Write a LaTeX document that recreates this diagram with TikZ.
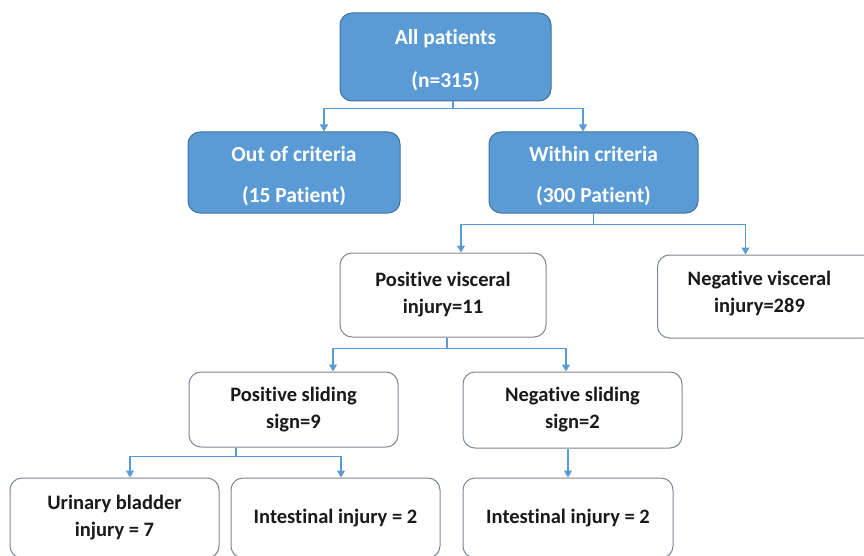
\documentclass[tikz,border=0pt]{standalone}
\usepackage{fontspec}
\setmainfont[Ligatures=NoCommon]{Carlito}
\usetikzlibrary{arrows.meta}
\definecolor{bfill}{HTML}{5B9BD5}
\definecolor{bline}{HTML}{41719C}
\definecolor{wline}{HTML}{7F8791}
\definecolor{cline}{HTML}{5B9BD5}
\definecolor{tdark}{HTML}{1A1A1A}
\tikzset{
  bluebox/.style={draw=bline, line width=1pt, fill=bfill, rounded corners=12pt, text=white,
    font=\fontsize{21.5}{27}\selectfont\bfseries, align=center, inner sep=0pt},
  whitebox/.style={draw=wline, line width=1pt, fill=white, rounded corners=12pt, text=tdark,
    font=\fontsize{20.5}{27}\selectfont\bfseries, align=center, inner sep=0pt},
  plaintext/.style={text=tdark, font=\fontsize{20.5}{27}\selectfont\bfseries, align=center, inner sep=0pt},
  conn/.style={draw=cline, line width=1.2pt, -{Triangle[width=8pt,length=7pt]}}
}
\begin{document}
\begin{tikzpicture}[x=1pt,y=-1pt]
\useasboundingbox (0,0) rectangle (864,556);
\clip (0,0) rectangle (864,556);
\fill[white] (0,0) rectangle (864,556);

\node[bluebox, minimum width=211pt, minimum height=88pt] (all) at (445.5,57) {\rule{0pt}{22pt}All patients\\[16pt](n=315)};
\node[bluebox, minimum width=212pt, minimum height=81pt] (out) at (294,172.5) {\rule{0pt}{22pt}Out of criteria\\[14pt](15 Patient)};
\node[bluebox, minimum width=209pt, minimum height=81pt] (within) at (593.5,172.5) {\rule{0pt}{22pt}Within criteria\\[14pt](300 Patient)};

\node[whitebox, minimum width=206pt, minimum height=84pt] (pv) at (443,295) {Positive visceral\\injury=11};
\node[whitebox, minimum width=218pt, minimum height=83pt, anchor=west] (nv) at (657,296.5) {};
\node[plaintext] (nvt) at (759.5,294) {Negative visceral\\injury=289};

\node[whitebox, minimum width=209pt, minimum height=75pt] (ps) at (293.5,409.5) {Positive sliding\\sign=9};
\node[whitebox, minimum width=219pt, minimum height=76pt] (ns) at (572.5,410) {Negative sliding\\sign=2};

\node[whitebox, minimum width=209pt, minimum height=80pt] (ub) at (114.5,518) {Urinary bladder\\injury = 7};
\node[whitebox, minimum width=209pt, minimum height=80pt] (ii1) at (335.5,518) {Intestinal injury = 2};
\node[whitebox, minimum width=210pt, minimum height=80pt] (ii2) at (568,518) {Intestinal injury = 2};

\draw[conn] ([xshift=7.5pt]all.south) -- ++(0,-7pt) -| ([xshift=30pt]out.north);
\draw[conn] ([xshift=7.5pt]all.south) -- ++(0,-7pt) -| ([xshift=-10.5pt]within.north);

\draw[conn] (within.south) -- ++(0,-11pt) -| ([xshift=18pt]pv.north);
\draw[conn] (within.south) -- ++(0,-11pt) -| ([xshift=-21pt]nv.north);

\draw[conn] ([xshift=4pt]pv.south) -- ++(0,-11pt) -| ([xshift=39.5pt]ps.north);
\draw[conn] ([xshift=4pt]pv.south) -- ++(0,-11pt) -| ([xshift=-6.5pt]ns.north);

\draw[conn] ([xshift=-57.5pt]ps.south) -- ++(0,-9pt) -| ([xshift=15.5pt]ub.north);
\draw[conn] ([xshift=-57.5pt]ps.south) -- ++(0,-9pt) -| ([xshift=5.5pt]ii1.north);

\draw[conn] ([xshift=-4.5pt]ns.south) -- (ii2.north);
\end{tikzpicture}
\end{document}
